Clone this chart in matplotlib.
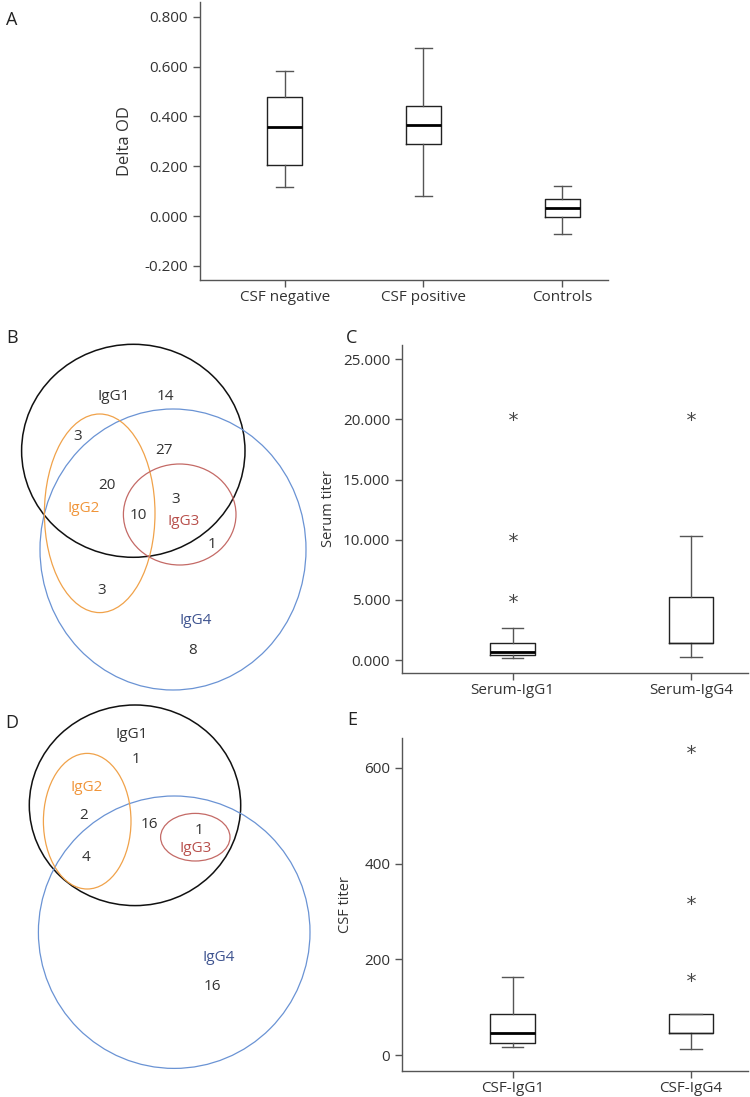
import matplotlib
matplotlib.use("Agg")
import matplotlib.pyplot as plt
from matplotlib.patches import Ellipse

plt.rcParams["font.family"] = ["Open Sans", "DejaVu Sans"]

# Panel A - delta OD box plots
a_labels = ["CSF negative", "CSF positive", "Controls"]
a_whislo = [0.115, 0.081, -0.072]
a_q1 = [0.204, 0.288, -0.005]
a_med = [0.357, 0.367, 0.032]
a_q3 = [0.477, 0.444, 0.069]
a_whishi = [0.584, 0.675, 0.121]
a_ticks = [-0.2, 0.0, 0.2, 0.4, 0.6, 0.8]

# Panel C - serum titers
c_labels = ["Serum-IgG1", "Serum-IgG4"]
c_whislo = [140, 220]
c_q1 = [440, 1385]
c_med = [690, 1385]
c_q3 = [1440, 5235]
c_whishi = [2690, 10300]
c_fliers = [[5120, 10220, 20320], [20320]]
c_ticks = [0, 5000, 10000, 15000, 20000, 25000]
c_ticklabels = ["0.000", "5.000", "10.000", "15.000", "20.000", "25.000"]

# Panel E - CSF titers
e_labels = ["CSF-IgG1", "CSF-IgG4"]
e_whislo = [17, 12.5]
e_q1 = [26, 46]
e_med = [47, 46]
e_q3 = [86, 86]
e_whishi = [164, 86]
e_fliers = [[], [163, 324, 638]]
e_ticks = [0, 200, 400, 600]

# Venn counts
b_counts = ["14", "3", "27", "20", "10", "3", "1", "3", "8"]
d_counts = ["1", "2", "16", "1", "4", "16"]

W, H = 750, 1097
fig = plt.figure(figsize=(W / 100, H / 100), dpi=100)

def px_axes(left, top, right, bottom):
    return fig.add_axes([left / W, 1 - bottom / H, (right - left) / W, (bottom - top) / H])

def style_axes(ax):
    for s in ["top", "right"]:
        ax.spines[s].set_visible(False)
    for s in ["left", "bottom"]:
        ax.spines[s].set_color("#555555")
        ax.spines[s].set_linewidth(1.0)
    ax.tick_params(colors="#555555", labelcolor="#333333", length=5, width=1.0, labelsize=11)
    ax.tick_params(axis="x", pad=2.5)

def draw_boxes(ax, labels, whislo, q1, med, q3, whishi, fliers, plain_median=()):
    stats = []
    for i in range(len(labels)):
        stats.append(dict(label=labels[i], whislo=whislo[i], q1=q1[i], med=med[i],
                          q3=q3[i], whishi=whishi[i], fliers=fliers[i]))
    art = ax.bxp(stats, positions=range(len(labels)), widths=0.25, capwidths=0.12,
                 showfliers=True,
                 boxprops=dict(color="#222222", linewidth=1.0),
                 whiskerprops=dict(color="#555555", linewidth=1.0),
                 capprops=dict(color="#555555", linewidth=1.0),
                 medianprops=dict(color="black", linewidth=2.0),
                 flierprops=dict(marker="$*$", markersize=6.5, markeredgewidth=0,
                                 markerfacecolor="#444444", color="#444444",
                                 linestyle="none"))
    for i in plain_median:
        art["medians"][i].set_linewidth(1.0)
        art["medians"][i].set_color("#222222")
    return art

# ---- Panel A
axA = px_axes(200, 2, 608, 280)
style_axes(axA)
draw_boxes(axA, a_labels, a_whislo, a_q1, a_med, a_q3, a_whishi, [[], [], []])
axA.set_xlim(-0.61, 2.33)
axA.set_ylim(-0.257, 0.86)
axA.set_yticks(a_ticks)
axA.set_yticklabels(["%.3f" % t for t in a_ticks])
axA.set_ylabel("Delta OD", fontsize=12, color="#333333", labelpad=8)

# ---- Panel C
axC = px_axes(402, 345, 748, 673)
style_axes(axC)
draw_boxes(axC, c_labels, c_whislo, c_q1, c_med, c_q3, c_whishi, c_fliers, plain_median=[1])
axC.set_xlim(-0.62, 1.32)
axC.set_ylim(-1080, 26190)
axC.set_yticks(c_ticks)
axC.set_yticklabels(c_ticklabels)
axC.set_ylabel("Serum titer", fontsize=10.5, color="#333333", labelpad=5)

# ---- Panel E
axE = px_axes(402, 738, 748, 1071)
style_axes(axE)
draw_boxes(axE, e_labels, e_whislo, e_q1, e_med, e_q3, e_whishi, e_fliers, plain_median=[1])
axE.set_xlim(-0.62, 1.32)
axE.set_ylim(-33, 662)
axE.set_yticks(e_ticks)
axE.set_ylabel("CSF titer", fontsize=10.5, color="#333333", labelpad=8)

# ---- Venn overlay in pixel coordinates
ov = fig.add_axes([0, 0, 1, 1], zorder=-1)
ov.set_xlim(0, W)
ov.set_ylim(H, 0)
ov.axis("off")

black = "#111111"
blue = "#6a93d4"
orange = "#f0a24a"
red = "#c46a66"

def ell(cx, cy, rx, ry, col, lw):
    ov.add_patch(Ellipse((cx, cy), 2 * rx, 2 * ry, fill=False, edgecolor=col, linewidth=lw))

def txt(x, y, s, col="#333333", size=11):
    ov.text(x, y, s, ha="center", va="center", color=col, fontsize=size)

# B
ell(133.3, 450.8, 111.7, 106.5, black, 1.1)
ell(173, 549.5, 133, 140.5, blue, 0.9)
ell(99.7, 513.3, 55.3, 99.3, orange, 0.9)
ell(179.7, 514.5, 56.3, 50.5, red, 0.9)
txt(113.3, 396, "IgG1")
txt(83.3, 509, "IgG2", "#f0953a")
txt(183.3, 521.7, "IgG3", "#b8504c")
txt(196, 620, "IgG4", "#3f5490")
b_pos = [(165, 396), (77.3, 436.7), (164.3, 450), (106.7, 485.7), (138.3, 515.7),
         (175.7, 499.3), (212.3, 544.3), (101.7, 590), (192.7, 650.7)]
for (x, y), s in zip(b_pos, b_counts):
    txt(x, y, s)

# D
ell(135, 805.3, 105.7, 100.3, black, 1.1)
ell(174.2, 932.2, 135.8, 136.2, blue, 0.9)
ell(87.2, 821.2, 43.8, 67.8, orange, 0.9)
ell(195.3, 837.2, 34.7, 23.8, red, 0.9)
txt(131.7, 735, "IgG1")
txt(86.7, 787.3, "IgG2", "#f0953a")
txt(196, 848.3, "IgG3", "#b8504c")
txt(218.3, 957.3, "IgG4", "#3f5490")
d_pos = [(135.7, 759.3), (83.3, 815.7), (149.3, 824), (199.3, 831), (86, 857.7), (212.3, 986)]
for (x, y), s in zip(d_pos, d_counts):
    txt(x, y, s)

# panel letters
for x, y, s in [(12, 20, "A"), (12, 338, "B"), (352, 338, "C"), (12, 723, "D"), (352, 720, "E")]:
    ov.text(x, y, s, ha="center", va="center", color="#222222", fontsize=13)

fig.savefig("out.png", dpi=100)
